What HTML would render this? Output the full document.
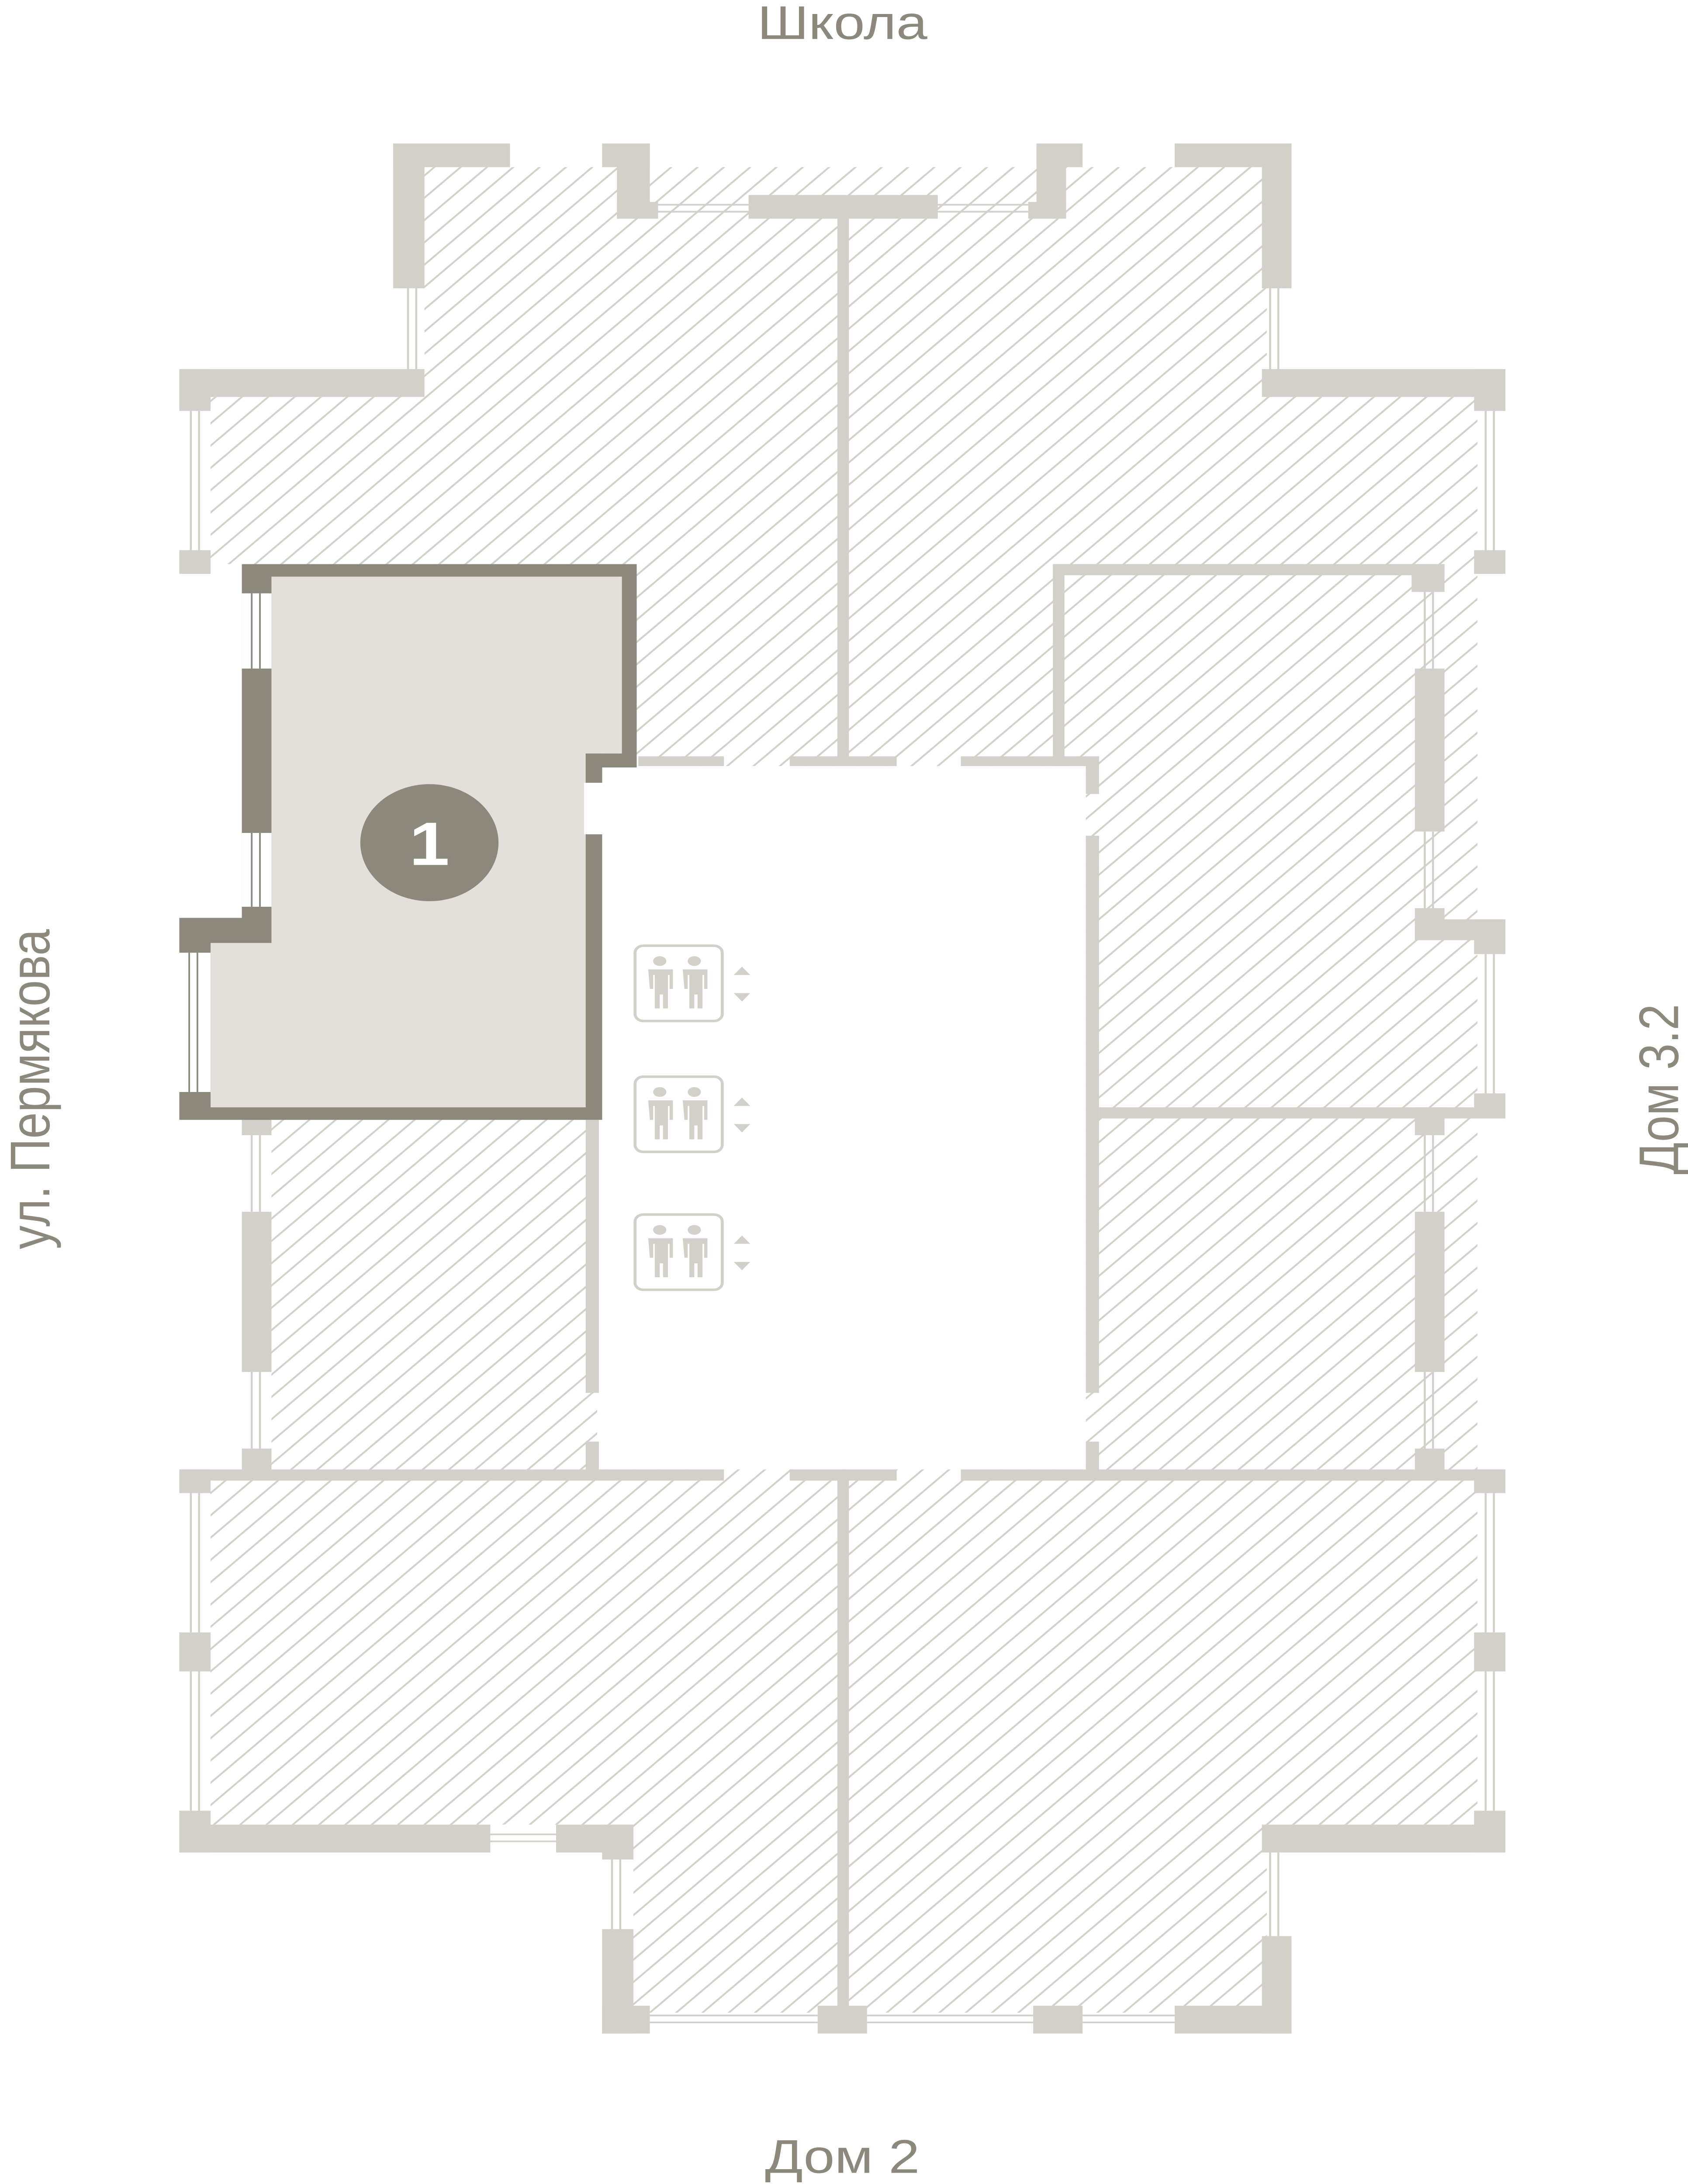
<!DOCTYPE html>
<html><head><meta charset="utf-8"><style>html,body{margin:0;padding:0;background:#fff;width:100%;height:100%;overflow:hidden}svg{position:fixed;left:0;top:0;width:100vw;height:100vh;display:block}</style></head><body>
<svg viewBox="0 0 1026 1568" preserveAspectRatio="none" xmlns="http://www.w3.org/2000/svg">
<defs>
<pattern id="h" patternUnits="userSpaceOnUse" width="16" height="16">
<path d="M-2,18 L18,-2 M-10,10 L10,-10 M6,26 L26,6" stroke="#d3cfc9" stroke-width="1.2"/>
</pattern>
</defs>
<rect width="1026" height="1568" fill="#fff"/>
<polygon fill="url(#h)" points="258,120 770,120 770,285 898,285 898,1310 770,1310 770,1445 385,1445 385,1310 128,1310 128,1060 165,1060 165,405 128,405 128,285 258,285"/>
<rect x="363" y="550" width="297" height="505" fill="#fff"/>
<g fill="#d3cfc9">
<rect x="239" y="103" width="71" height="17"/><rect x="239" y="103" width="19" height="104"/>
<rect x="366" y="103" width="29" height="17"/><rect x="375" y="103" width="20" height="54"/><rect x="375" y="145" width="25" height="12"/>
<rect x="455" y="140" width="115" height="17"/>
<rect x="630" y="103" width="28" height="17"/><rect x="630" y="103" width="18" height="54"/><rect x="625" y="145" width="23" height="12"/>
<rect x="714" y="103" width="71" height="17"/><rect x="767" y="103" width="18" height="104"/>
<rect x="767" y="265" width="148" height="20"/><rect x="896" y="265" width="19" height="30"/>
<rect x="109" y="265" width="149" height="20"/><rect x="109" y="265" width="19" height="30"/>
<rect x="109" y="395" width="19" height="17"/><rect x="896" y="395" width="19" height="17"/>
<rect x="640" y="405" width="238" height="8"/><rect x="858" y="405" width="20" height="20"/>
<rect x="640" y="405" width="7" height="145"/>
<rect x="509" y="155" width="7" height="388"/><rect x="509" y="1060" width="7" height="385"/>
<rect x="388" y="543" width="52" height="7"/><rect x="480" y="543" width="65" height="7"/><rect x="584" y="543" width="84" height="7"/><rect x="660" y="543" width="8" height="27"/>
<rect x="660" y="600" width="8" height="400"/><rect x="660" y="1035" width="8" height="25"/>
<rect x="356" y="804" width="8" height="196"/><rect x="356" y="1035" width="8" height="25"/>
<rect x="109" y="1055" width="331" height="8"/><rect x="480" y="1055" width="65" height="8"/><rect x="584" y="1055" width="331" height="8"/>
<rect x="109" y="1055" width="19" height="17"/><rect x="896" y="1055" width="19" height="17"/>
<rect x="668" y="795" width="230" height="8"/>
<rect x="860" y="480" width="18" height="117"/><rect x="860" y="652" width="18" height="23"/><rect x="860" y="660" width="55" height="15"/><rect x="896" y="660" width="19" height="25"/>
<rect x="896" y="785" width="19" height="18"/><rect x="860" y="795" width="18" height="20"/>
<rect x="860" y="870" width="18" height="115"/><rect x="860" y="1040" width="18" height="20"/>
<rect x="147" y="800" width="18" height="15"/><rect x="147" y="870" width="18" height="115"/><rect x="147" y="1040" width="18" height="20"/>
<rect x="109" y="1172" width="19" height="28"/><rect x="896" y="1172" width="19" height="28"/>
<rect x="109" y="1310" width="189" height="20"/><rect x="109" y="1300" width="19" height="30"/>
<rect x="338" y="1310" width="47" height="20"/><rect x="366" y="1310" width="19" height="25"/>
<rect x="767" y="1310" width="148" height="20"/><rect x="896" y="1300" width="19" height="30"/>
<rect x="366" y="1385" width="19" height="75"/><rect x="366" y="1440" width="29" height="20"/>
<rect x="497" y="1440" width="30" height="20"/><rect x="628" y="1440" width="30" height="20"/>
<rect x="714" y="1440" width="71" height="20"/><rect x="767" y="1390" width="18" height="70"/>
</g>
<g stroke="#d3cfc9" stroke-width="1.2" fill="none">
<path d="M395,147 H455 M395,152 H455 M570,147 H625 M570,152 H625"/>
<path d="M248,207 V265 M253,207 V265 M772,207 V265 M777,207 V265"/>
<path d="M116,295 V395 M121,295 V395 M903,295 V395 M908,295 V395"/>
<path d="M866,425 V480 M871,425 V480 M866,597 V652 M871,597 V652 M903,685 V785 M908,685 V785"/>
<path d="M866,815 V870 M871,815 V870 M866,985 V1040 M871,985 V1040"/>
<path d="M153,815 V870 M158,815 V870 M153,985 V1040 M158,985 V1040"/>
<path d="M116,1072 V1172 M121,1072 V1172 M116,1200 V1300 M121,1200 V1300 M903,1072 V1172 M908,1072 V1172 M903,1200 V1300 M908,1200 V1300"/>
<path d="M298,1317 H338 M298,1322 H338 M372,1335 V1385 M377,1335 V1385 M772,1330 V1390 M777,1330 V1390"/>
<path d="M395,1447 H497 M395,1452 H497 M527,1447 H628 M527,1452 H628 M658,1447 H714 M658,1452 H714"/>
</g>
<polygon fill="#8c887c" points="147,405 387,405 387,551 366,551 366,804 109,804 109,659 147,659"/>
<polygon fill="#e3e0dc" points="165,414 378,414 378,541 356,541 356,795 128,795 128,677 165,677"/>
<rect x="356" y="541" width="10" height="21" fill="#8c887c"/>
<rect x="355" y="562" width="13" height="37" fill="#fff"/>
<g fill="#fff"><rect x="147" y="426" width="18" height="54"/><rect x="147" y="598" width="18" height="53"/><rect x="109" y="684" width="19" height="100"/></g>
<g stroke="#8c887c" stroke-width="1" fill="none">
<path d="M153,426 V480 M158,426 V480 M153,598 V651 M158,598 V651 M115,684 V784 M120,684 V784"/>
</g>
<circle cx="261" cy="605" r="42" fill="#8c887c"/>
<text x="261" y="621" text-anchor="middle" font-family="Liberation Sans, sans-serif" font-weight="bold" font-size="44" fill="#fff">1</text>
<g id="el">
<rect x="386" y="679" width="53" height="54" rx="5" fill="none" stroke="#d3cfc9" stroke-width="1.8"/>
<g fill="#d3cfc9">
<ellipse cx="401" cy="690" rx="4" ry="3.5"/><ellipse cx="422" cy="690" rx="4" ry="3.5"/>
<path d="M394,696 h15 v14 h-2 v-10 h-1 v24 h-3 v-10 h-2 v10 h-3 v-24 h-1 v10 h-2z"/>
<path d="M415,696 h15 v14 h-2 v-10 h-1 v24 h-3 v-10 h-2 v10 h-3 v-24 h-1 v10 h-2z"/>
<path d="M446,700 l5,-6 l5,6z M446,713 l5,6 l5,-6z"/>
</g>
</g>
<use href="#el" y="94"/>
<use href="#el" y="193"/>
<g font-family="Liberation Sans, DejaVu Sans, sans-serif" fill="#8c887c" font-size="34">
<text x="512" y="28" text-anchor="middle">Школа</text>
<text x="512" y="1560" text-anchor="middle">Дом 2</text>
<text transform="translate(30,782) rotate(-90)" text-anchor="middle">ул. Пермякова</text>
<text transform="translate(1020,782) rotate(-90)" text-anchor="middle">Дом 3.2</text>
</g>
</svg>
</body></html>
